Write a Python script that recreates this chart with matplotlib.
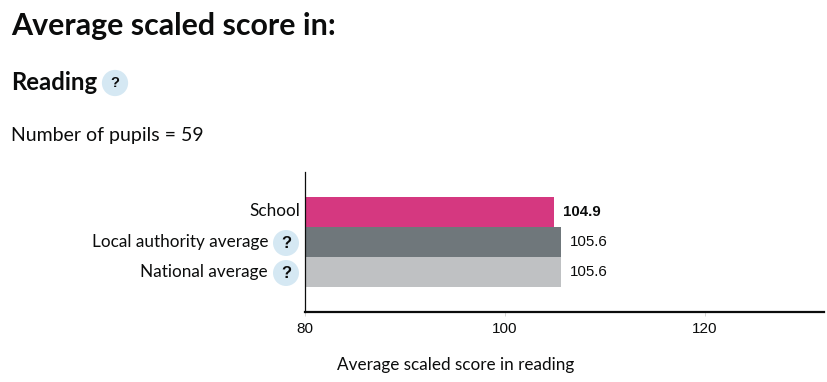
import matplotlib
matplotlib.use("Agg")
import matplotlib.pyplot as plt

categories = ["School", "Local authority average", "National average"]
values = [104.9, 105.6, 105.6]
value_labels = ["104.9", "105.6", "105.6"]
colors = ["#d53880", "#6f777b", "#bfc1c3"]
ticks = [80, 100, 120]
has_help = [False, True, True]

plt.rcParams['font.family'] = ['Lato', 'DejaVu Sans']
W, H = 827, 382
fig = plt.figure(figsize=(W/100, H/100), dpi=100)
fig.patch.set_facecolor("white")

def fx(x): return x/W
def fy(y): return 1-y/H

BLUE = "#d5e8f3"
INK = "#0b0c0c"
fig.text(fx(11), fy(26), "Average scaled score in:", fontsize=21.9, fontweight='bold', color=INK, va='center')
fig.text(fx(11), fy(83), "Reading", fontsize=17.2, fontweight='bold', color=INK, va='center')
fig.text(fx(11), fy(135), "Number of pupils = 59", fontsize=14, color=INK, va='center')

ax = fig.add_axes([fx(304.5), fy(312), (824-304.5)/W, (312-172)/H])
ax.set_xlim(80, 131.9)
ax.set_ylim(312, 172)
ycent = [211.5, 242, 272]
ax.barh(ycent, [v-80 for v in values], left=80, height=30, color=colors)
for s in ['top', 'right']:
    ax.spines[s].set_visible(False)
ax.spines['left'].set_color(INK)
ax.spines['left'].set_linewidth(0.9)
ax.spines['bottom'].set_color(INK)
ax.spines['bottom'].set_linewidth(1.6)
ax.set_xticks(ticks)
ax.set_xticklabels([str(t) for t in ticks], fontsize=11, color=INK, family='Liberation Sans')
ax.tick_params(axis='x', length=3, width=0.6, color='#cccccc', pad=4)
ax.set_yticks([])
ax.set_xlabel("Average scaled score in reading", fontsize=12.3, color=INK)
ax.xaxis.set_label_coords((456-304.5)/(824-304.5), -(365-312)/140)
ax.xaxis.label.set_va('center')
for y, v, lab, i in zip(ycent, values, value_labels, range(3)):
    ax.annotate(lab, (v, y), xytext=(9, -0.5), textcoords='offset pixels', va='center', fontsize=10.8,
                fontweight='bold' if i == 0 else 'normal', color=INK, family='Liberation Sans')

label_right = [300, 268, 268]
for y, c, r, h in zip(ycent, categories, label_right, has_help):
    fig.text(fx(r), fy(y), c, ha='right', va='center', fontsize=12.3, color=INK)
    if h:
        fig.text(fx(286), fy(y+1), "?", ha='center', va='center', fontsize=12, fontweight='bold', color=INK,
                 family='Liberation Sans', bbox=dict(boxstyle='circle,pad=0.33', fc=BLUE, ec='none'))
fig.text(fx(115), fy(83), "?", ha='center', va='center', fontsize=10.5, fontweight='bold', color=INK,
         family='Liberation Sans', bbox=dict(boxstyle='circle,pad=0.42', fc=BLUE, ec='none'))
fig.savefig("out.png", dpi=100)
